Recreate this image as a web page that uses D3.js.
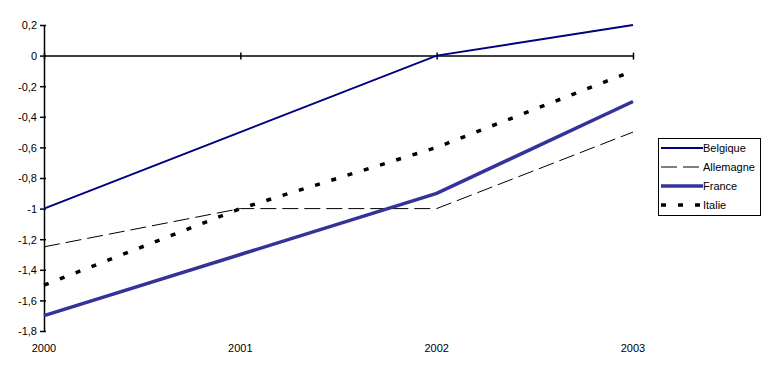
<!DOCTYPE html>
<html>
<head>
<meta charset="utf-8">
<script src="https://cdn.jsdelivr.net/npm/d3@7"></script>
<style>
  body { margin: 0; background: #fff; }
  svg { display: block; font-family: "Liberation Sans", Arial, sans-serif; font-size: 11px; }
</style>
</head>
<body>
<div id="chart"></div>
<script>
// Data
const years = [2000, 2001, 2002, 2003];
const belgique = [-1.0, -0.5, 0.0, 0.2];
const allemagne = [-1.25, -1.0, -1.0, -0.5];
const france = [-1.7, -1.3, -0.9, -0.3];
const italie = [-1.5, -1.0, -0.6, -0.1];
const yTicks = [0.2, 0, -0.2, -0.4, -0.6, -0.8, -1, -1.2, -1.4, -1.6, -1.8];

const series = [
  { name: "Belgique", values: belgique, color: "#000080", width: 2, dash: null },
  { name: "Allemagne", values: allemagne, color: "#000000", width: 1, dash: "16,6" },
  { name: "France", values: france, color: "#333399", width: 3.5, dash: null },
  { name: "Italie", values: italie, color: "#000000", width: 3.5, dash: "5,12" }
];

const width = 768, height = 374;
const svg = d3.select("#chart").append("svg")
    .attr("width", width)
    .attr("height", height);

const x = d3.scaleLinear().domain([2000, 2003]).range([44, 633]);
const y = d3.scaleLinear().domain([0.2, -1.8]).range([25, 331]);

// French decimal comma, no trailing zero ("-1", "0", "-0,2")
const fmt = d => String(+d.toFixed(1)).replace(".", ",");

// Y axis (left), ticks crossing the line
const yAxis = svg.append("g")
    .attr("transform", `translate(${x(2000)},0)`)
    .call(d3.axisLeft(y).tickValues(yTicks).tickSize(0).tickFormat(fmt));
yAxis.select(".domain").attr("stroke", "#000").attr("stroke-width", 1.5);
yAxis.selectAll(".tick text").attr("x", -7).attr("dy", "0.35em").attr("fill", "#000").style("font-size", "11px");
yAxis.selectAll(".tick").append("line")
    .attr("x1", -4).attr("x2", 2).attr("stroke", "#000").attr("stroke-width", 1.5);

// X axis line drawn at zero
const xAxis = svg.append("g")
    .attr("transform", `translate(0,${y(0)})`)
    .call(d3.axisBottom(x).tickValues(years).tickSize(0).tickFormat(""));
xAxis.select(".domain").attr("stroke", "#000").attr("stroke-width", 1.5);
xAxis.selectAll(".tick").append("line")
    .attr("y1", -3).attr("y2", 4).attr("stroke", "#000").attr("stroke-width", 1.5);

// Year labels along the bottom
svg.append("g").selectAll("text")
  .data(years)
  .join("text")
    .attr("x", d => x(d))
    .attr("y", 352)
    .attr("text-anchor", "middle")
    .attr("fill", "#000")
    .text(d => d);

// Lines
const line = d3.line()
    .x((d, i) => x(years[i]))
    .y(d => y(d));

svg.append("g").selectAll("path")
  .data(series)
  .join("path")
    .attr("fill", "none")
    .attr("stroke", d => d.color)
    .attr("stroke-width", d => d.width)
    .attr("stroke-dasharray", d => d.dash)
    .attr("d", d => line(d.values));

// Legend
const legend = svg.append("g");
legend.append("rect")
    .attr("x", 658.5).attr("y", 138.5)
    .attr("width", 102).attr("height", 77)
    .attr("fill", "#fff").attr("stroke", "#000");

const item = legend.selectAll("g.item")
  .data(series)
  .join("g")
    .attr("class", "item")
    .attr("transform", (d, i) => `translate(661,${148 + i * 19})`);
item.append("line")
    .attr("x1", 0).attr("x2", 42)
    .attr("stroke", d => d.color)
    .attr("stroke-width", d => d.width)
    .attr("stroke-dasharray", d => d.dash);
item.append("text")
    .attr("x", 42).attr("dy", "0.35em")
    .attr("fill", "#000")
    .text(d => d.name);
</script>
</body>
</html>
